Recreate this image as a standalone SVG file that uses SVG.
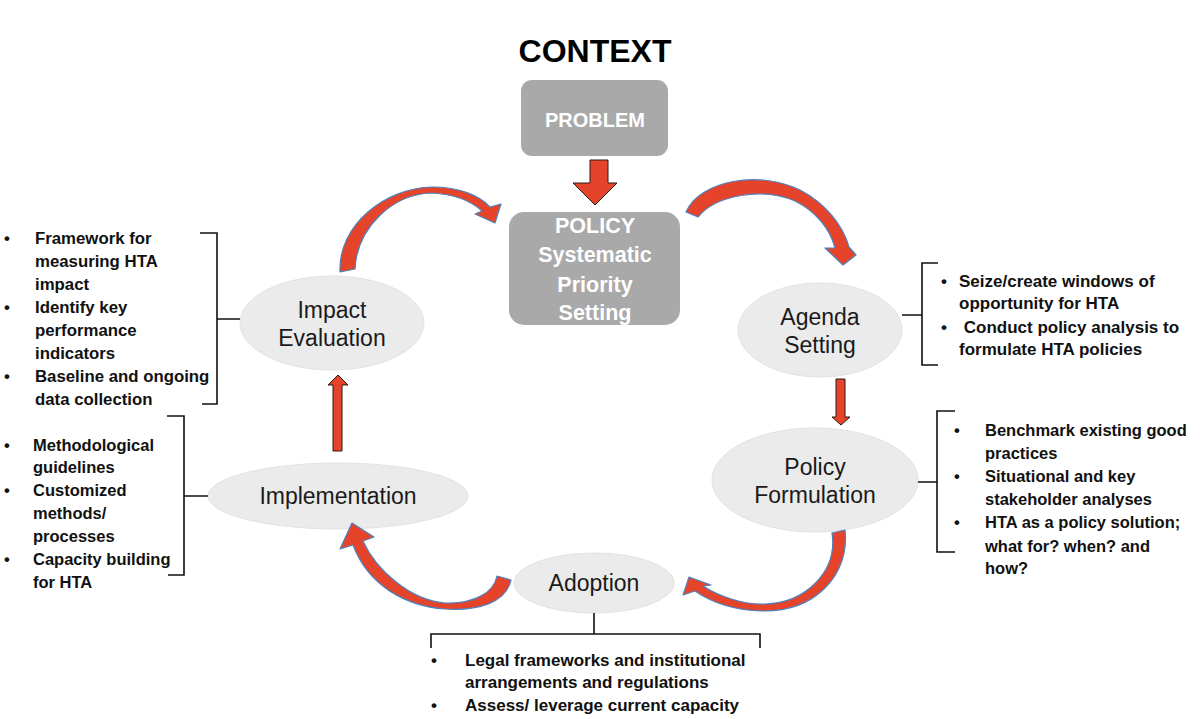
<svg xmlns="http://www.w3.org/2000/svg" width="1200" height="719" viewBox="0 0 1200 719">
<style>
.box{fill:#a9a9a9}
.boxt{font-family:"Liberation Sans",Arial,sans-serif;font-weight:bold;fill:#ffffff;text-anchor:middle}
.ell{fill:#ebebeb;stroke:#e2e2e2;stroke-width:1}
.ellt{font-family:"Liberation Sans",Arial,sans-serif;font-size:23px;fill:#1a1a1a;text-anchor:middle}
.bt{font-family:"Liberation Sans",Arial,sans-serif;font-weight:bold;fill:#111111}
.br{fill:none;stroke:#111111;stroke-width:1.6}
.carr{fill:#e5432a;stroke:#4f81bd;stroke-width:1.2;stroke-linejoin:round}
.sarr{fill:#e5432a;stroke:#2a1a14;stroke-width:1}
</style>
<rect width="1200" height="719" fill="#ffffff"/>
<text x="595" y="62" font-family="Liberation Sans, Arial, sans-serif" font-weight="bold" font-size="32" text-anchor="middle" fill="#000">CONTEXT</text>

<g id="problem">
<rect class="box" x="521" y="80" width="147" height="76" rx="11"/>
<text class="boxt" x="595" y="127" font-size="20">PROBLEM</text>
</g>

<g id="policy">
<rect class="box" x="509" y="212" width="171" height="113" rx="15"/>
<text class="boxt" font-size="21.5"><tspan x="595" y="233">POLICY</tspan><tspan x="595" y="262">Systematic</tspan><tspan x="595" y="292">Priority</tspan><tspan x="595" y="320">Setting</tspan></text>
</g>

<g id="impact-evaluation">
<ellipse class="ell" cx="332" cy="323" rx="92" ry="47"/>
<text class="ellt"><tspan x="332" y="318">Impact</tspan><tspan x="332" y="346">Evaluation</tspan></text>
</g>

<g id="agenda-setting">
<ellipse class="ell" cx="820" cy="330" rx="82" ry="47"/>
<text class="ellt"><tspan x="820" y="325">Agenda</tspan><tspan x="820" y="353">Setting</tspan></text>
</g>

<g id="policy-formulation">
<ellipse class="ell" cx="815" cy="480" rx="103" ry="52"/>
<text class="ellt"><tspan x="815" y="475">Policy</tspan><tspan x="815" y="503">Formulation</tspan></text>
</g>

<g id="implementation">
<ellipse class="ell" cx="338" cy="496" rx="130" ry="33"/>
<text class="ellt" x="338" y="504">Implementation</text>
</g>

<g id="adoption">
<ellipse class="ell" cx="594" cy="583" rx="80" ry="30"/>
<text class="ellt" x="594" y="591">Adoption</text>
</g>

<g id="connectors">
<path class="sarr" d="M590 160 H608 V183 H617 L595 205 L573 183 H590 Z"/>
<path class="sarr" d="M333 451 V385 H328 L338 375 L348 385 H342 V451 Z"/>
<path class="sarr" d="M836 379 H845 V417 H850 L841 425 L832 417 H836 Z"/>
<path class="carr" d="M340 272 C338 225 385 188 432 187 C460 187 480 196 490 207 L501 204 L495 223 L475 214 L482 211 C470 200 452 194 432 193 C392 194 357 228 355 269 Z"/>
<path class="carr" d="M686 212 C700 180 760 170 800 190 C825 203 843 225 849 247 L856 255 L843 265 L825 248 L835 248 C830 228 815 211 795 201 C762 187 716 195 698 217 Z"/>
<path class="carr" d="M832 533 L845 530 C850 575 815 612 762 611 C730 610 708 600 695 591 L683 595 L689 577 L711 585 L703 586 C720 597 745 605 765 604 C805 603 838 572 832 533 Z"/>
<path class="carr" d="M497 576 L511 580 C506 603 478 611 445 609 C405 606 368 585 353 545 L340 549 L352 523 L374 537 L363 541 C376 570 410 600 445 603 C475 604 494 592 497 576 Z"/>
</g>

<g id="impact-notes">
<path class="br" d="M200 233 H217 V404 H202 M217 319 H240"/>
<text class="bt" font-size="16.8"><tspan x="4" y="244">•</tspan><tspan x="35" y="244">Framework for</tspan><tspan x="35" y="267">measuring HTA</tspan><tspan x="35" y="290">impact</tspan><tspan x="4" y="313">•</tspan><tspan x="35" y="313">Identify key</tspan><tspan x="35" y="336">performance</tspan><tspan x="35" y="359">indicators</tspan><tspan x="4" y="382">•</tspan><tspan x="35" y="382">Baseline and ongoing</tspan><tspan x="35" y="405">data collection</tspan></text>
</g>

<g id="implementation-notes">
<path class="br" d="M167 416 H184 V575 H168 M184 496 H208"/>
<text class="bt" font-size="16.5"><tspan x="4" y="451">•</tspan><tspan x="33" y="451">Methodological</tspan><tspan x="33" y="473">guidelines</tspan><tspan x="4" y="496">•</tspan><tspan x="33" y="496">Customized</tspan><tspan x="33" y="519">methods/</tspan><tspan x="33" y="542">processes</tspan><tspan x="4" y="565">•</tspan><tspan x="33" y="565">Capacity building</tspan><tspan x="33" y="588">for HTA</tspan></text>
</g>

<g id="agenda-notes">
<path class="br" d="M938 263 H922 V365 H938 M922 315 H902"/>
<text class="bt" font-size="17"><tspan x="941" y="287">•</tspan><tspan x="959" y="287">Seize/create windows of</tspan><tspan x="959" y="309">opportunity for HTA</tspan><tspan x="941" y="333">•</tspan><tspan x="959" y="333"> Conduct policy analysis to</tspan><tspan x="959" y="355">formulate HTA policies</tspan></text>
</g>

<g id="formulation-notes">
<path class="br" d="M955 411 H937 V552 H955 M937 482 H918"/>
<text class="bt" font-size="16.5"><tspan x="954" y="436">•</tspan><tspan x="985" y="436">Benchmark existing good</tspan><tspan x="985" y="459">practices</tspan><tspan x="954" y="482">•</tspan><tspan x="985" y="482">Situational and key</tspan><tspan x="985" y="505">stakeholder analyses</tspan><tspan x="954" y="528">•</tspan><tspan x="985" y="528">HTA as a policy solution;</tspan><tspan x="985" y="552">what for? when? and</tspan><tspan x="985" y="574">how?</tspan></text>
</g>

<g id="adoption-notes">
<path class="br" d="M594 613 V634 M431 648 V634 H760 V648"/>
<text class="bt" font-size="17"><tspan x="431" y="666">•</tspan><tspan x="465" y="666">Legal frameworks and institutional</tspan><tspan x="465" y="688">arrangements and regulations</tspan><tspan x="431" y="711">•</tspan><tspan x="465" y="711">Assess/ leverage current capacity</tspan></text>
</g>
</svg>
